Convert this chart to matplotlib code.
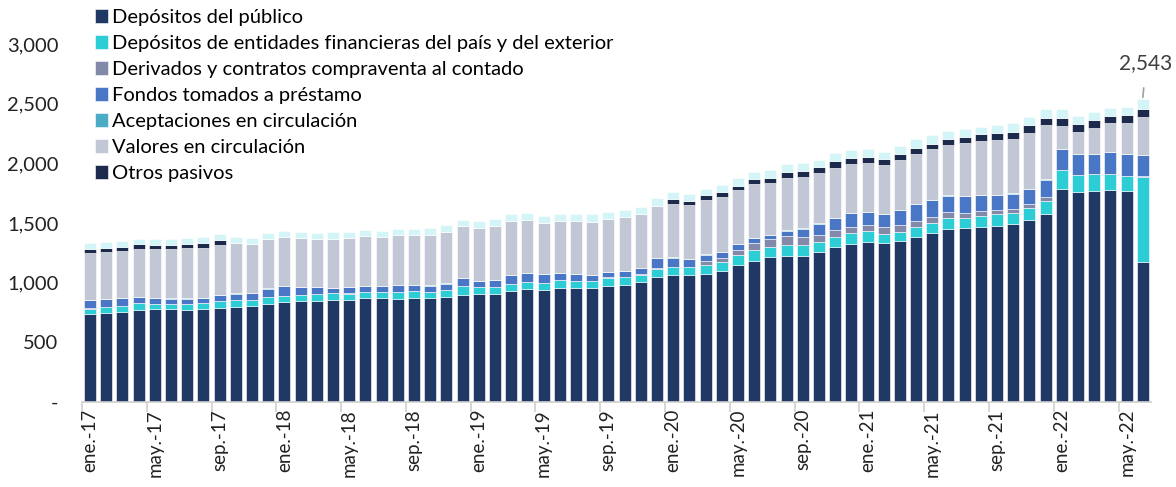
import matplotlib.pyplot as plt
import numpy as np

plt.rcParams['font.family'] = ['Lato', 'DejaVu Sans']

# monthly balance, ene-17 .. jun-22 (miles de millones)
meses = ['ene', 'feb', 'mar', 'abr', 'may', 'jun', 'jul', 'ago', 'sep', 'oct', 'nov', 'dic']
anios = ['17', '18', '19', '20', '21', '22']

dep_publico = [737, 743, 751, 770, 776, 776, 768, 776, 790, 798, 801, 818,
               840, 846, 848, 857, 857, 868, 868, 865, 868, 868, 882, 899,
               902, 905, 932, 946, 935, 957, 957, 957, 974, 980, 1005, 1050,
               1061, 1061, 1075, 1100, 1150, 1183, 1214, 1225, 1225, 1259, 1296, 1326,
               1343, 1329, 1346, 1379, 1418, 1452, 1460, 1469, 1474, 1493, 1527, 1572,
               1781, 1756, 1767, 1778, 1764, 1173]
dep_entidades = [45, 50, 53, 56, 45, 45, 50, 53, 56, 56, 53, 61,
                 48, 50, 57, 56, 50, 53, 50, 56, 59, 53, 56, 72,
                 61, 58, 56, 56, 62, 65, 56, 56, 67, 67, 61, 67,
                 70, 67, 70, 73, 79, 87, 84, 92, 90, 84, 86, 86,
                 86, 78, 78, 87, 81, 89, 86, 92, 98, 87, 100, 114,
                 159, 145, 140, 132, 129, 714]
derivados = [4, 4, 4, 4, 4, 4, 4, 4, 4, 4, 4, 4,
             4, 4, 4, 4, 4, 4, 4, 4, 4, 4, 4, 4,
             4, 4, 4, 4, 4, 4, 4, 4, 4, 4, 4, 4,
             4, 4, 36, 37, 41, 62, 67, 73, 70, 53, 58, 51,
             53, 56, 56, 50, 50, 50, 40, 42, 36, 39, 34, 31,
             3, 3, 3, 3, 3, 3]
fondos = [65, 63, 63, 49, 46, 40, 43, 38, 43, 49, 52, 66,
          79, 60, 51, 37, 49, 46, 46, 52, 48, 49, 49, 63,
          46, 54, 71, 74, 71, 54, 52, 44, 43, 46, 49, 82,
          74, 65, 53, 46, 50, 39, 33, 47, 66, 97, 103, 120,
          106, 109, 130, 142, 142, 137, 139, 130, 125, 128, 123, 145,
          177, 170, 167, 180, 181, 176]
aceptaciones = [3] * 66
valores = [391, 393, 393, 399, 405, 416, 419, 419, 419, 419, 413, 413,
           408, 411, 402, 411, 413, 419, 414, 419, 419, 424, 432, 433,
           444, 455, 453, 444, 427, 433, 447, 446, 443, 452, 453, 438,
           449, 450, 455, 456, 450, 449, 433, 441, 430, 419, 414, 407,
           414, 410, 411, 414, 422, 424, 440, 455, 458, 453, 466, 455,
           192, 184, 217, 238, 256, 323]
otros_pasivos = [36, 37, 34, 40, 39, 34, 36, 41, 44, 0, 0, 0,
                 0, 0, 0, 0, 0, 0, 0, 0, 0, 0, 0, 0,
                 0, 0, 0, 0, 0, 0, 0, 0, 0, 0, 0, 0,
                 39, 38, 39, 41, 41, 42, 45, 47, 51, 53, 58, 48,
                 50, 50, 53, 56, 50, 50, 56, 54, 62, 61, 69, 59,
                 66, 67, 62, 64, 65, 64]
resto = [48, 50, 50, 44, 44, 50, 48, 48, 48, 53, 50, 48,
         50, 47, 48, 53, 45, 48, 50, 50, 51, 53, 56, 53,
         53, 51, 56, 56, 56, 59, 56, 62, 61, 56, 61, 65,
         61, 59, 58, 61, 59, 61, 64, 65, 64, 64, 65, 70,
         64, 64, 67, 69, 70, 67, 61, 61, 64, 70, 62, 72,
         73, 70, 72, 69, 72, 87]

series = [
    (dep_publico, 'Depósitos del público', '#203864'),
    (dep_entidades, 'Depósitos de entidades financieras del país y del exterior', '#2DCDD5'),
    (derivados, 'Derivados y contratos compraventa al contado', '#8389A8'),
    (fondos, 'Fondos tomados a préstamo', '#4A76C6'),
    (aceptaciones, 'Aceptaciones en circulación', '#4BACC6'),
    (valores, 'Valores en circulación', '#C2C7D6'),
    (otros_pasivos, 'Otros pasivos', '#1C2B4C'),
    (resto, '_nolegend_', '#D3F5F7'),
]

etiquetas = [f'{m}.-{a}' for a in anios for m in meses][:len(dep_publico)]
x = np.arange(len(dep_publico))

fig = plt.figure(figsize=(11.76, 4.87), dpi=100)
ax = fig.add_axes([0.0697, 0.1745, 0.909, 0.7352])

base = np.zeros(len(x))
for vals, lbl, col in series:
    ax.bar(x, vals, 0.74, bottom=base, color=col, label=lbl,
           edgecolor='white', linewidth=0.4)
    base += np.array(vals)

total = base[-1]
ax.annotate(f'{total:,.0f}', xy=(x[-1], total + 10), xytext=(x[-1] + 0.2, total + 300),
            ha='center', va='center', fontsize=15, color='#404040',
            arrowprops=dict(arrowstyle='-', color='#A0A0A0', lw=1.2,
                            shrinkA=9, shrinkB=0))

ax.set_xlim(-0.5, len(x) - 0.5)
ax.set_ylim(0, 3000)
ax.set_yticks(np.arange(0, 3001, 500))
ax.set_yticklabels(['-'] + [f'{v:,}' for v in range(500, 3001, 500)])
ax.tick_params(axis='y', length=0, labelsize=14.5, labelcolor='#222222', pad=17)

ax.set_xticks(x[::4])
ax.set_xticklabels(etiquetas[::4], rotation=90, fontsize=13.5, color='#222222')
ax.set_xticks(np.arange(-0.5, len(x), 4), minor=True)
ax.tick_params(axis='x', which='major', length=0, pad=5)
ax.tick_params(axis='x', which='minor', length=7, color='#D0D0D0', width=1.2)

for s in ['top', 'right', 'left']:
    ax.spines[s].set_visible(False)
ax.spines['bottom'].set_color('#D0D0D0')
ax.spines['bottom'].set_linewidth(1.2)

ax.legend(loc='upper left', bbox_to_anchor=(0.077, 0.99), bbox_transform=fig.transFigure,
          frameon=False, fontsize=14.5, handlelength=0.65, handleheight=0.65,
          handletextpad=0.2, labelspacing=0.45, borderaxespad=0, borderpad=0.2)

fig.savefig('out.png', dpi=100)
